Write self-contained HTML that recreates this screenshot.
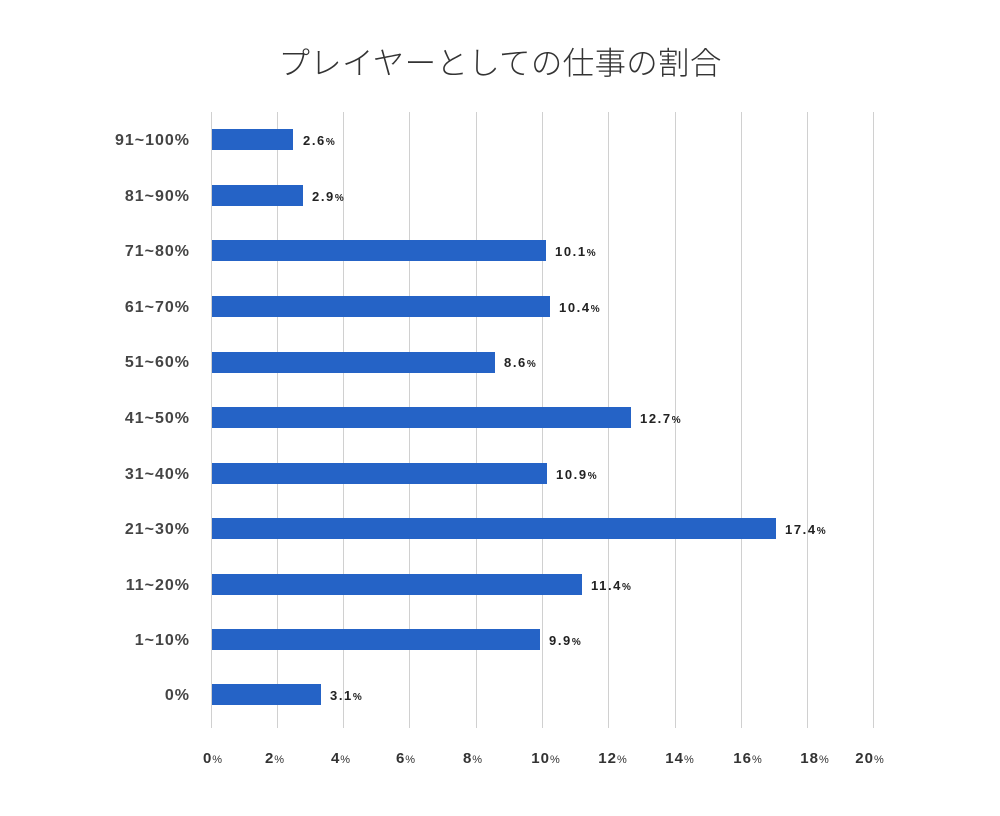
<!DOCTYPE html>
<html><head><meta charset="utf-8"><style>
body{margin:0;background:#fff;}
svg{display:block;}
.t{font-family:"Liberation Sans","Noto Sans CJK JP",sans-serif;}
</style></head><body>
<svg width="1000" height="816" xmlns="http://www.w3.org/2000/svg" class="t">
<rect width="1000" height="816" fill="#fff"/>
<text x="500" y="74" text-anchor="middle" font-size="31.5" fill="#333" font-family="Noto Sans CJK JP, sans-serif" font-weight="300" letter-spacing="0.3">プレイヤーとしての仕事の割合</text>
<g stroke="#d0d0d0" stroke-width="1">
<line x1="211.5" y1="112" x2="211.5" y2="728"/><line x1="277.5" y1="112" x2="277.5" y2="728"/>
<line x1="343.5" y1="112" x2="343.5" y2="728"/><line x1="409.5" y1="112" x2="409.5" y2="728"/>
<line x1="476.5" y1="112" x2="476.5" y2="728"/><line x1="542.5" y1="112" x2="542.5" y2="728"/>
<line x1="608.5" y1="112" x2="608.5" y2="728"/><line x1="675.5" y1="112" x2="675.5" y2="728"/>
<line x1="741.5" y1="112" x2="741.5" y2="728"/><line x1="807.5" y1="112" x2="807.5" y2="728"/>
<line x1="873.5" y1="112" x2="873.5" y2="728"/>
</g>
<g fill="#2563c6">
<rect x="212" y="129" width="81" height="21"/>
<rect x="212" y="185" width="91" height="21"/>
<rect x="212" y="240" width="334" height="21"/>
<rect x="212" y="296" width="338" height="21"/>
<rect x="212" y="352" width="283" height="21"/>
<rect x="212" y="407" width="419" height="21"/>
<rect x="212" y="463" width="335" height="21"/>
<rect x="212" y="518" width="564" height="21"/>
<rect x="212" y="574" width="370" height="21"/>
<rect x="212" y="629" width="328" height="21"/>
<rect x="212" y="684" width="109" height="21"/>
</g>
<g font-size="13" font-weight="bold" fill="#222" letter-spacing="1.6">
<text x="303" y="145">2.6<tspan font-size="10">%</tspan></text>
<text x="312" y="201">2.9<tspan font-size="10">%</tspan></text>
<text x="555" y="256">10.1<tspan font-size="10">%</tspan></text>
<text x="559" y="312">10.4<tspan font-size="10">%</tspan></text>
<text x="504" y="367">8.6<tspan font-size="10">%</tspan></text>
<text x="640" y="423">12.7<tspan font-size="10">%</tspan></text>
<text x="556" y="479">10.9<tspan font-size="10">%</tspan></text>
<text x="785" y="534">17.4<tspan font-size="10">%</tspan></text>
<text x="591" y="590">11.4<tspan font-size="10">%</tspan></text>
<text x="549" y="645">9.9<tspan font-size="10">%</tspan></text>
<text x="330" y="700">3.1<tspan font-size="10">%</tspan></text>
</g>
<g font-size="16" font-weight="bold" fill="#444" text-anchor="end" letter-spacing="1">
<text x="190" y="145">91~100%</text>
<text x="190" y="201">81~90%</text>
<text x="190" y="256">71~80%</text>
<text x="190" y="312">61~70%</text>
<text x="190" y="367">51~60%</text>
<text x="190" y="423">41~50%</text>
<text x="190" y="479">31~40%</text>
<text x="190" y="534">21~30%</text>
<text x="190" y="590">11~20%</text>
<text x="190" y="645">1~10%</text>
<text x="190" y="700">0%</text>
</g>
<g font-size="15" font-weight="bold" fill="#333" text-anchor="middle" letter-spacing="1">
<text x="213" y="763">0<tspan font-size="11" font-weight="normal">%</tspan></text>
<text x="275" y="763">2<tspan font-size="11" font-weight="normal">%</tspan></text>
<text x="341" y="763">4<tspan font-size="11" font-weight="normal">%</tspan></text>
<text x="406" y="763">6<tspan font-size="11" font-weight="normal">%</tspan></text>
<text x="473" y="763">8<tspan font-size="11" font-weight="normal">%</tspan></text>
<text x="546" y="763">10<tspan font-size="11" font-weight="normal">%</tspan></text>
<text x="613" y="763">12<tspan font-size="11" font-weight="normal">%</tspan></text>
<text x="680" y="763">14<tspan font-size="11" font-weight="normal">%</tspan></text>
<text x="748" y="763">16<tspan font-size="11" font-weight="normal">%</tspan></text>
<text x="815" y="763">18<tspan font-size="11" font-weight="normal">%</tspan></text>
<text x="870" y="763">20<tspan font-size="11" font-weight="normal">%</tspan></text>
</g>
</svg>
</body></html>
